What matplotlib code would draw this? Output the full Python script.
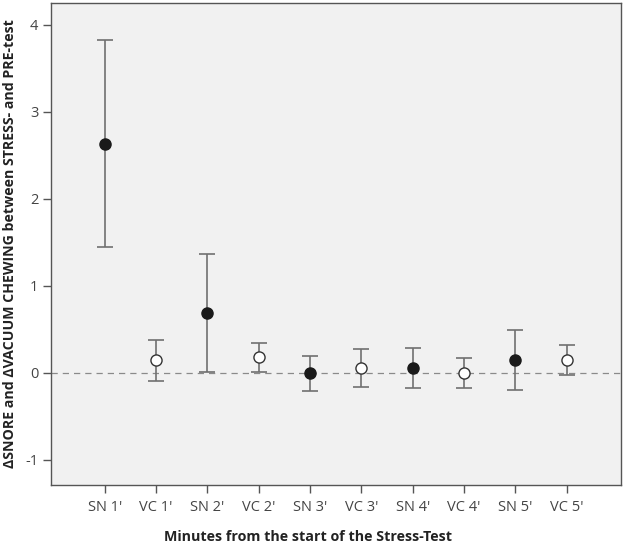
import matplotlib
matplotlib.use("Agg")
import matplotlib.pyplot as plt
import numpy as np

categories = ["SN 1'", "VC 1'", "SN 2'", "VC 2'", "SN 3'", "VC 3'", "SN 4'", "VC 4'", "SN 5'", "VC 5'"]
means = [2.63, 0.15, 0.69, 0.18, 0.00, 0.05, 0.05, 0.00, 0.15, 0.15]
upper = [3.82, 0.38, 1.37, 0.34, 0.19, 0.27, 0.29, 0.17, 0.49, 0.32]
lower = [1.44, -0.09, 0.01, 0.01, -0.21, -0.16, -0.18, -0.18, -0.20, -0.03]
yticks = [-1, 0, 1, 2, 3, 4]

plt.rcParams['font.family'] = ['Open Sans', 'DejaVu Sans']

fig = plt.figure(figsize=(6.24, 5.44), dpi=100)
ax = fig.add_axes([51/624, 1-485/544, (621-51)/624, (485-3)/544])
ax.set_facecolor('#f1f1f1')

x = np.arange(len(categories))
m = np.array(means); u = np.array(upper); l = np.array(lower)

ax.axhline(0, color='#8a8a8a', lw=0.9, ls=(0, (5, 4)), zorder=1)

ax.errorbar(x, m, yerr=[m - l, u - m], fmt='none', ecolor='#707070',
            elinewidth=1.2, capsize=6, capthick=1.2, zorder=2)

for xi, mi, c in zip(x, m, categories):
    filled = c.startswith('SN')
    ax.plot(xi, mi, 'o', ms=8, mfc='#1a1a1a' if filled else 'white',
            mec='#1a1a1a' if filled else '#333333', mew=1.0, zorder=3)

ax.set_xlim(-1.05, 10.06)
ax.set_ylim(-1.29, 4.25)
ax.set_xticks(x)
ax.set_xticklabels(categories)
ax.set_yticks(yticks)
ax.set_yticklabels([str(t) for t in yticks])

for s in ax.spines.values():
    s.set_color('#555555')
    s.set_linewidth(1.0)

ax.tick_params(axis='both', colors='#555555', labelcolor='#444444',
               length=6, width=1.0, labelsize=10.5)
ax.tick_params(axis='x', pad=5)
ax.tick_params(axis='y', pad=3)

ax.set_xlabel("Minutes from the start of the Stress-Test", fontsize=10.3,
              fontweight='bold', color='#222222')
ax.xaxis.set_label_coords(0.451, -0.093)
ax.set_ylabel("ΔSNORE and ΔVACUUM CHEWING between STRESS- and PRE-test",
              fontsize=10.2, fontweight='bold', color='#222222', labelpad=6)

fig.savefig('out.png', dpi=100)
